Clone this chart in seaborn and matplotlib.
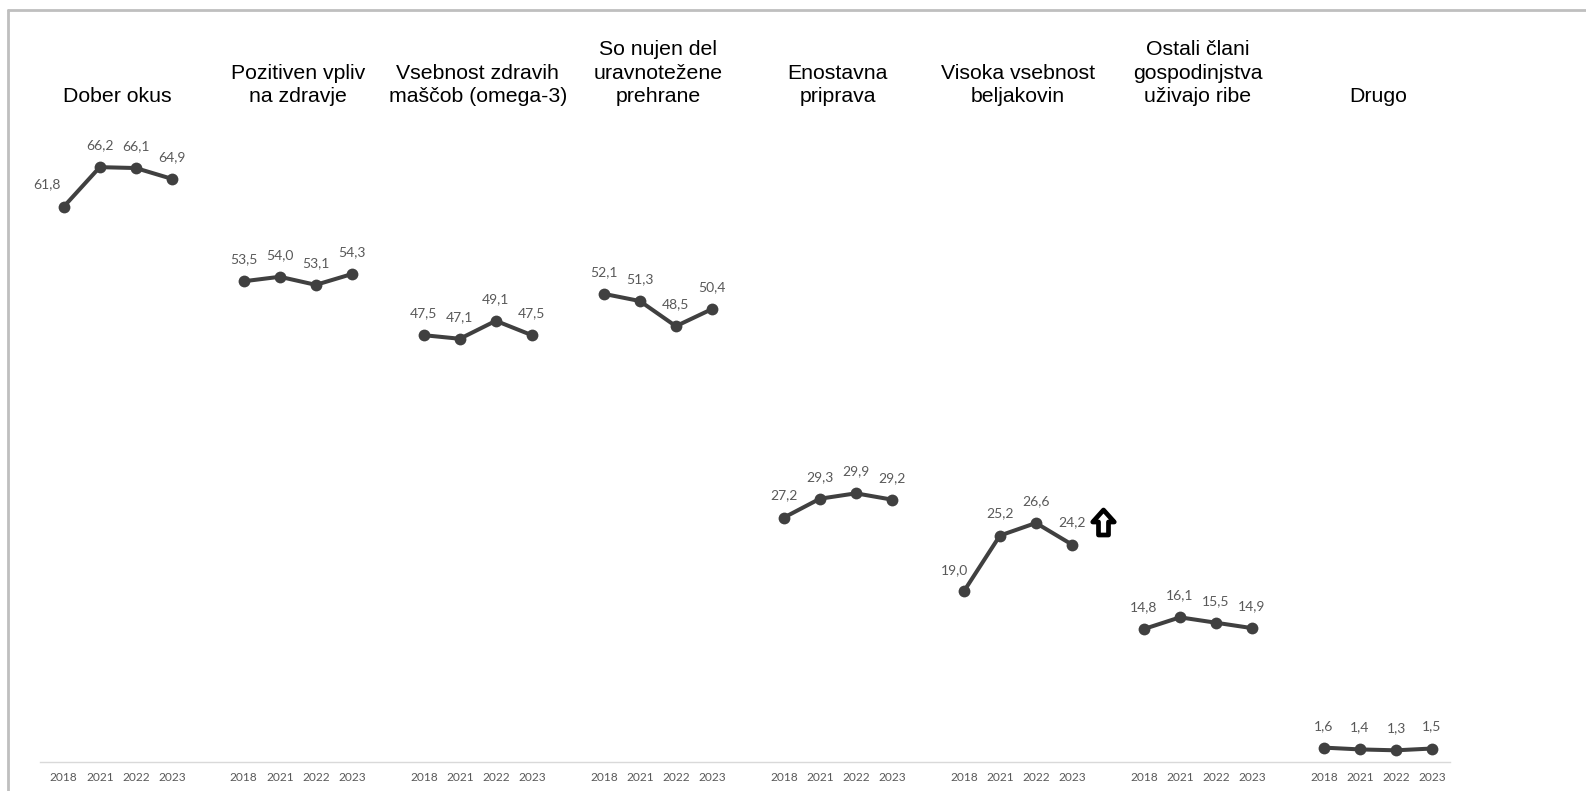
import matplotlib
matplotlib.use("Agg")
import matplotlib.pyplot as plt
import matplotlib.transforms as mtransforms
from matplotlib.path import Path
import seaborn as sns
import pandas as pd
from matplotlib.lines import Line2D

categories = [
    "Dober okus",
    "Pozitiven vpliv\nna zdravje",
    "Vsebnost zdravih\nmaščob (omega-3)",
    "So nujen del\nuravnotežene\nprehrane",
    "Enostavna\npriprava",
    "Visoka vsebnost\nbeljakovin",
    "Ostali člani\ngospodinjstva\nuživajo ribe",
    "Drugo",
]
years = ["2018", "2021", "2022", "2023"]
dober_okus = [61.8, 66.2, 66.1, 64.9]
pozitiven_vpliv = [53.5, 54.0, 53.1, 54.3]
omega3 = [47.5, 47.1, 49.1, 47.5]
uravnotezena = [52.1, 51.3, 48.5, 50.4]
enostavna = [27.2, 29.3, 29.9, 29.2]
beljakovine = [19.0, 25.2, 26.6, 24.2]
ostali_clani = [14.8, 16.1, 15.5, 14.9]
drugo = [1.6, 1.4, 1.3, 1.5]
series = [dober_okus, pozitiven_vpliv, omega3, uravnotezena,
          enostavna, beljakovine, ostali_clani, drugo]

GROUP_STEP = 5
rows = []
for g, (cat, vals) in enumerate(zip(categories, series)):
    for i, (yr, v) in enumerate(zip(years, vals)):
        rows.append({"group": g, "cat": cat, "year": yr,
                     "pos": g * GROUP_STEP + i, "val": v})
df = pd.DataFrame(rows)

sns.set_theme(style="white")
plt.rcParams['font.family'] = ['Liberation Sans', 'DejaVu Sans']

W, H = 1586, 791
fig = plt.figure(figsize=(W / 100, H / 100), dpi=100)
ax_left, ax_right = 40, 1450
ax_bottom_px, ax_top_px = 762, 133
ax = fig.add_axes([ax_left / W, 1 - ax_bottom_px / H,
                   (ax_right - ax_left) / W, (ax_bottom_px - ax_top_px) / H])

line_col = "#404040"
sns.lineplot(data=df, x="pos", y="val", units="group", estimator=None,
             color=line_col, linewidth=2.9, marker="o", markersize=8.5,
             markeredgewidth=0, ax=ax, legend=False)

ax.set_xlim(-0.66, 38.5)
ax.set_ylim(0, 70)

ax.set_xticks(df["pos"])
ax.set_xticklabels(df["year"], fontfamily="Lato", fontsize=8.6, color="#595959")
ax.tick_params(axis="x", length=0, pad=7)
ax.set_yticks([])
ax.set_xlabel("")
ax.set_ylabel("")
for s in ["top", "right", "left"]:
    ax.spines[s].set_visible(False)
ax.spines["bottom"].set_color("#d9d9d9")
ax.spines["bottom"].set_linewidth(1.0)

# data labels
label_offsets = {(0, 0): (-12, 16.5), (5, 0): (-6.5, 15.5)}
for _, r in df.iterrows():
    dx, dy = label_offsets.get((r["group"], years.index(r["year"])), (0, 15.8))
    ax.annotate(f"{r['val']:.1f}".replace(".", ","), (r["pos"], r["val"]),
                xytext=(dx, dy), textcoords="offset points",
                ha="center", va="center", fontfamily="Lato",
                fontsize=10, color="#595959")

# group titles
title_tr = mtransforms.blended_transform_factory(ax.transData, fig.transFigure)
for g, cat in enumerate(categories):
    x_c = g * GROUP_STEP + 1.5
    ax.text(x_c, 1 - 106.5 / H, cat, transform=title_tr,
            ha="center", va="bottom", fontsize=15.3, color="#000000",
            linespacing=1.33, multialignment="center")

# up arrow marker next to "Visoka vsebnost beljakovin" 2023
arrow_verts = [(-0.2, -0.5), (0.2, -0.5), (0.2, 0.02), (0.43, 0.02),
               (0.0, 0.5), (-0.43, 0.02), (-0.2, 0.02), (-0.2, -0.5)]
arrow_codes = [Path.MOVETO] + [Path.LINETO] * 6 + [Path.CLOSEPOLY]
arrow_path = Path(arrow_verts, arrow_codes)
ax.plot([5 * GROUP_STEP + 3.87], [26.7], marker=arrow_path, markersize=18,
        markerfacecolor="white", markeredgecolor="black", markeredgewidth=3.4,
        linestyle="none", clip_on=False)

# chart frame (top and left edges visible)
fig.add_artist(Line2D([8 / W, 1.0], [1 - 10 / H, 1 - 10 / H],
                      transform=fig.transFigure, color="#bfbfbf", linewidth=2))
fig.add_artist(Line2D([8 / W, 8 / W], [1 - 10 / H, 0.0],
                      transform=fig.transFigure, color="#bfbfbf", linewidth=2))

fig.savefig("out.png", dpi=100, facecolor="white")
